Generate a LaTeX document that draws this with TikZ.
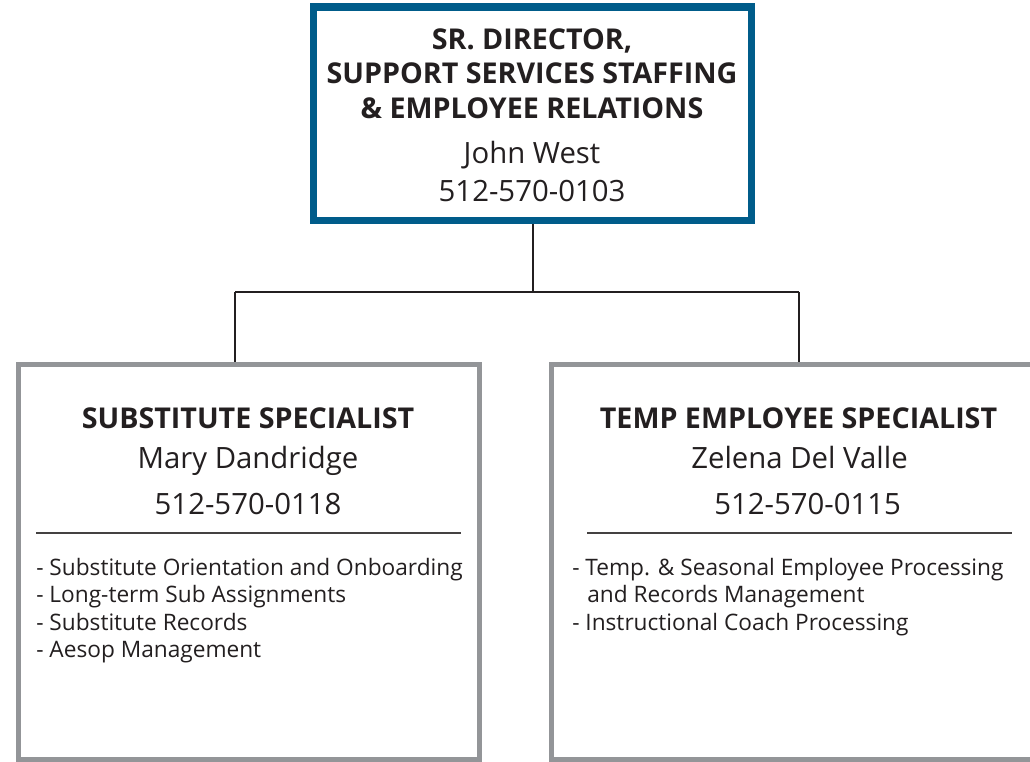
\documentclass[tikz,border=0pt]{standalone}
\usepackage{fontspec}
\setmainfont{Open Sans}
\definecolor{topblue}{RGB}{0,92,138}
\definecolor{boxgray}{RGB}{147,149,152}
\definecolor{ink}{RGB}{35,31,32}
\begin{document}
\begin{tikzpicture}[x=0.75pt,y=-0.75pt,
  topbox/.style={draw=topblue, fill=white, line width=5.625pt, inner sep=0pt, minimum width=328.5pt, minimum height=160.1pt},
  childbox/.style={draw=boxgray, fill=white, line width=3.75pt, inner sep=0pt, minimum height=296.5pt},
  conn/.style={draw=ink, line width=1.5pt},
  rule/.style={draw=ink!85, line width=1.2pt},
  titletext/.style={anchor=base, inner sep=0pt, text=ink, font=\fontsize{21.5}{25}\selectfont\bfseries},
  nametext/.style={anchor=base, inner sep=0pt, text=ink, font=\fontsize{22}{27}\selectfont},
  itemtext/.style={anchor=base west, inner sep=0pt, text=ink, font=\fontsize{17}{20}\selectfont}
]
\useasboundingbox (0,0) rectangle (1030,762);
\clip (0,0) rectangle (1030,762);

% boxes
\node[topbox] (top) at (532.5,113.75) {};
\node[childbox, minimum width=345.4pt] (left) at (248.75,561.85) {};
\node[childbox, minimum width=371.6pt] (right) at (799.25,561.85) {};

% connectors
\coordinate (lc) at (235,292);
\coordinate (rc) at (799,292);
\draw[conn] (top.south) -- (top.south |- lc);
\draw[conn] (lc) -- (rc);
\draw[conn] (lc) -- (lc |- left.north);
\draw[conn] (rc) -- (rc |- right.north);

% top box text
\node[titletext] (t1) at (532,50) {SR. DIRECTOR,};
\node[titletext] (t2) at (532,83.3) {SUPPORT SERVICES STAFFING};
\node[titletext] (t3) at (532,118.3) {\& EMPLOYEE RELATIONS};
\node[nametext] (tn) at (532,163.3) {John West};
\node[nametext] (tp) at (532,201.7) {512-570-0103};

% left box text
\node[titletext] (l1) at (248,428.3) {SUBSTITUTE SPECIALIST};
\node[nametext] (ln) at (248,468.3) {Mary Dandridge};
\node[nametext] (lp) at (248,514) {512-570-0118};
\draw[rule] (36,533) -- (461,533);
\node[itemtext] (li1) at (36,575) {- Substitute Orientation and Onboarding};
\node[itemtext] (li2) at (36,602.7) {- Long-term Sub Assignments};
\node[itemtext] (li3) at (36,630) {- Substitute Records};
\node[itemtext] (li4) at (36,657.3) {- Aesop Management};

% right box text
\node[titletext] (r1) at (798.5,428.3) {TEMP EMPLOYEE SPECIALIST};
\node[nametext] (rn) at (799.5,468.3) {Zelena Del Valle};
\node[nametext] (rp) at (807.6,514) {512-570-0115};
\draw[rule] (587,533) -- (1012,533);
\node[itemtext] (ri1) at (572,575) {- Temp. \& Seasonal Employee Processing};
\node[itemtext] (ri2) at (587,602.7) {and Records Management};
\node[itemtext] (ri3) at (572,630) {- Instructional Coach Processing};
\end{tikzpicture}
\end{document}
